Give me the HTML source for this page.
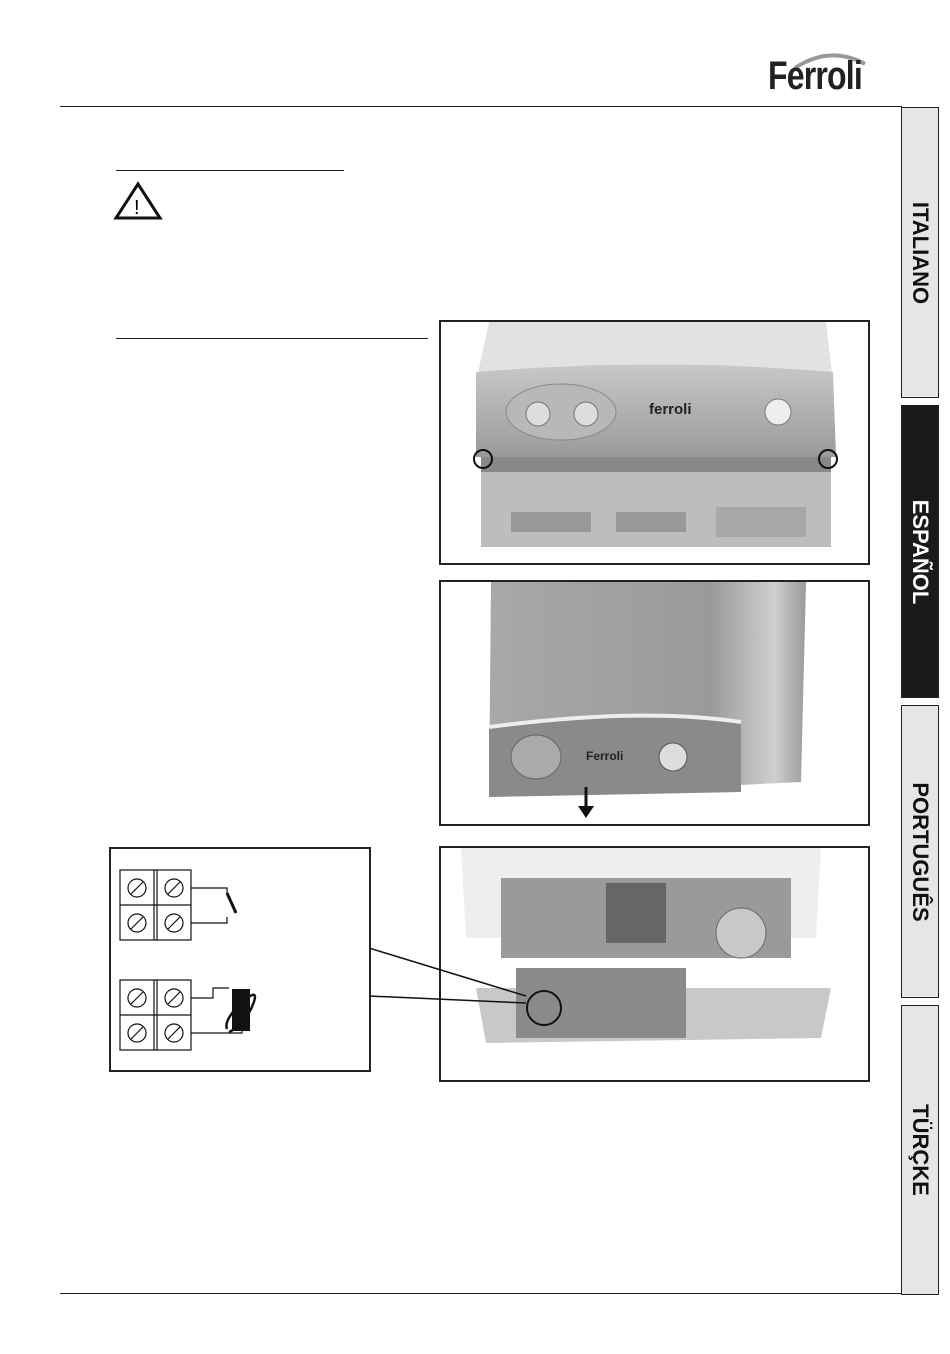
<!DOCTYPE html>
<html><head><meta charset="utf-8"><style>
body{margin:0;width:950px;height:1354px;background:#fff;position:relative;overflow:hidden;font-family:"Liberation Sans",sans-serif}
.a{position:absolute}
.tab{position:absolute;left:901px;width:36px;border:1px solid #222;background:#e6e6e6}
.tab span{position:absolute;left:50%;top:50%;transform:translate(-50%,-50%) rotate(90deg);font-weight:bold;font-size:22px;white-space:nowrap;color:#111}
.box{position:absolute;border:2px solid #222;overflow:hidden;background:#fff}
</style></head><body>
<svg class="a" style="left:790px;top:50px" width="80" height="20"><path d="M5,18 Q40,-5 75,14" stroke="#999" stroke-width="4" fill="none"/></svg>
<div class="a" style="left:768px;top:54px;font-size:40px;font-weight:bold;color:#222;letter-spacing:-1px;transform:scaleX(.8);transform-origin:left">Ferroli</div>
<div class="a" style="left:60px;top:106px;width:842px;height:1px;background:#222"></div>
<div class="a" style="left:60px;top:1293px;width:842px;height:1px;background:#222"></div>
<div class="tab" style="top:107px;height:289px"><span>ITALIANO</span></div>
<div class="tab" style="top:405px;height:291px;background:#1a1a1a"><span style="color:#fff">ESPAÑOL</span></div>
<div class="tab" style="top:705px;height:291px"><span>PORTUGUÊS</span></div>
<div class="tab" style="top:1005px;height:288px"><span>TÜRÇKE</span></div>
<div class="a" style="left:116px;top:170px;width:228px;height:1px;background:#222"></div>
<div class="a" style="left:116px;top:338px;width:312px;height:1px;background:#222"></div>
<svg class="a" style="left:113px;top:181px" width="50" height="40"><polygon points="25,3 47,37 3,37" fill="none" stroke="#111" stroke-width="3"/><text x="21" y="33" font-size="20" font-family="Liberation Sans">!</text></svg>

<div class="box" style="left:439px;top:320px;width:427px;height:241px">
<svg width="427" height="241"><defs><linearGradient id="g1" x1="0" y1="0" x2="0" y2="1"><stop offset="0" stop-color="#c8c8c8"/><stop offset="1" stop-color="#9a9a9a"/></linearGradient></defs>
<path d="M48,0 L385,0 L392,60 L35,60Z" fill="#e2e2e2"/>
<path d="M35,50 Q215,35 392,50 L395,135 L35,135Z" fill="url(#g1)"/>
<ellipse cx="120" cy="90" rx="55" ry="28" fill="#b8b8b8" stroke="#888"/>
<circle cx="97" cy="92" r="12" fill="#ddd" stroke="#777"/><circle cx="145" cy="92" r="12" fill="#ddd" stroke="#777"/>
<text x="208" y="92" font-size="15" font-weight="bold" fill="#222" font-family="Liberation Sans">ferroli</text>
<circle cx="337" cy="90" r="13" fill="#eee" stroke="#777"/>
<rect x="40" y="135" width="350" height="90" fill="#bdbdbd"/>
<rect x="40" y="135" width="350" height="15" fill="#888"/>
<circle cx="42" cy="137" r="9" fill="none" stroke="#111" stroke-width="2"/>
<circle cx="387" cy="137" r="9" fill="none" stroke="#111" stroke-width="2"/>
<rect x="70" y="190" width="80" height="20" fill="#999"/><rect x="175" y="190" width="70" height="20" fill="#999"/><rect x="275" y="185" width="90" height="30" fill="#a8a8a8"/>
</svg></div>

<div class="box" style="left:439px;top:580px;width:427px;height:242px">
<svg width="427" height="242"><defs><linearGradient id="g2" x1="0" y1="0" x2="1" y2="0"><stop offset="0" stop-color="#a8a8a8"/><stop offset=".7" stop-color="#9a9a9a"/><stop offset=".9" stop-color="#cfcfcf"/><stop offset="1" stop-color="#9a9a9a"/></linearGradient></defs>
<path d="M50,0 L365,0 L360,200 L48,215Z" fill="url(#g2)"/>
<path d="M48,145 Q200,125 300,140 L300,210 L48,215Z" fill="#8a8a8a"/>
<path d="M48,145 Q200,125 300,140" stroke="#eee" stroke-width="4" fill="none"/>
<ellipse cx="95" cy="175" rx="25" ry="22" fill="#aaa" stroke="#666"/>
<text x="145" y="178" font-size="12" font-weight="bold" fill="#222" font-family="Liberation Sans">Ferroli</text>
<circle cx="232" cy="175" r="14" fill="#ddd" stroke="#555"/>
<line x1="145" y1="205" x2="145" y2="228" stroke="#111" stroke-width="3"/><polygon points="137,224 153,224 145,236" fill="#111"/>
</svg></div>

<div class="box" style="left:439px;top:846px;width:427px;height:232px">
<svg width="427" height="232">
<path d="M20,0 L380,0 L375,90 L25,90Z" fill="#eee"/>
<rect x="60" y="30" width="290" height="80" fill="#9a9a9a"/>
<circle cx="300" cy="85" r="25" fill="#c8c8c8" stroke="#666"/>
<rect x="165" y="35" width="60" height="60" fill="#666"/>
<path d="M35,140 L390,140 L380,190 L45,195Z" fill="#c8c8c8"/>
<rect x="75" y="120" width="170" height="70" fill="#8a8a8a"/>
<circle cx="103" cy="160" r="17" fill="none" stroke="#111" stroke-width="2"/>
</svg></div>

<svg class="a" style="left:0;top:0" width="950" height="1354" pointer-events="none">
<line x1="369" y1="948" x2="526" y2="996" stroke="#111" stroke-width="1.5"/>
<line x1="369" y1="996" x2="526" y2="1003" stroke="#111" stroke-width="1.5"/>
</svg>

<div class="box" style="left:109px;top:847px;width:258px;height:221px">
<svg width="258" height="221" font-family="Liberation Sans">
<g stroke="#111" fill="none" stroke-width="1.2">
<rect x="9" y="21" width="71" height="70"/><line x1="9" y1="56" x2="80" y2="56"/><line x1="43" y1="21" x2="43" y2="91"/><line x1="46" y1="21" x2="46" y2="91"/>
<circle cx="26" cy="39" r="9"/><circle cx="63" cy="39" r="9"/><circle cx="26" cy="74" r="9"/><circle cx="63" cy="74" r="9"/>
<line x1="20" y1="45" x2="32" y2="33"/><line x1="57" y1="45" x2="69" y2="33"/><line x1="20" y1="80" x2="32" y2="68"/><line x1="57" y1="80" x2="69" y2="68"/>
<polyline points="80,39 116,39 116,44"/><polyline points="80,74 116,74 116,68"/>
<line x1="116" y1="44" x2="125" y2="64" stroke-width="3"/>
<rect x="9" y="131" width="71" height="70"/><line x1="9" y1="166" x2="80" y2="166"/><line x1="43" y1="131" x2="43" y2="201"/><line x1="46" y1="131" x2="46" y2="201"/>
<circle cx="26" cy="149" r="9"/><circle cx="63" cy="149" r="9"/><circle cx="26" cy="184" r="9"/><circle cx="63" cy="184" r="9"/>
<line x1="20" y1="155" x2="32" y2="143"/><line x1="57" y1="155" x2="69" y2="143"/><line x1="20" y1="190" x2="32" y2="178"/><line x1="57" y1="190" x2="69" y2="178"/>
<polyline points="80,149 102,149 102,139 118,139"/><polyline points="80,184 131,184 131,178"/>
<path d="M116,180 Q112,170 135,150 Q150,138 140,160 Q130,178 118,183" stroke-width="2.5"/>
</g>
<rect x="121" y="140" width="18" height="42" fill="#111"/>
</svg></div>
</body></html>
